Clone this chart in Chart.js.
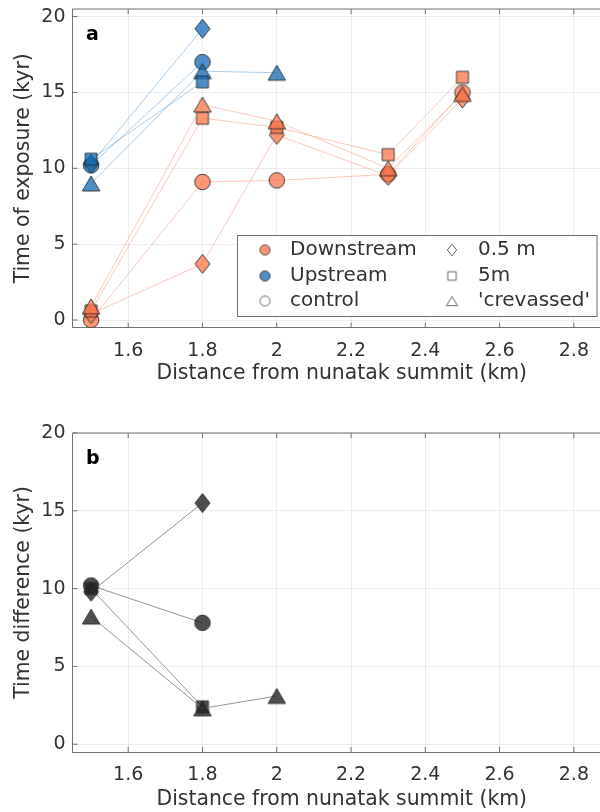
<!DOCTYPE html>
<html><head><meta charset="utf-8">
<script src="https://cdn.jsdelivr.net/npm/chart.js@4"></script>
<style>
html,body{margin:0;padding:0;background:#fff;overflow:hidden;width:600px;height:812px}
#wrap{position:relative;width:600px;height:812px;overflow:hidden}
canvas{position:absolute;left:0}
#ca{top:0}
#cb{top:400px}
</style></head><body>
<div id="wrap"><canvas id="ca" width="620" height="400"></canvas><canvas id="cb" width="620" height="412"></canvas></div>
<script>
// ---- data ----
const xTicks=[1.6,1.8,2.0,2.2,2.4,2.6,2.8];
const xTickLabels=['1.6','1.8','2','2.2','2.4','2.6','2.8'];
const yTicks=[0,5,10,15,20];
const yTickLabels=['0','5','10','15','20'];

const distDown=[1.5,1.8,2.0,2.3,2.5];
const downControl=[0.0,9.1,9.2,9.6,15.0];
const downDiamond=[0.4,3.7,12.2,9.5,14.6];
const down5m=[0.6,13.3,12.7,10.9,16.0];
const downCrev=[0.9,14.2,13.1,10.0,14.9];

const distUp=[1.5,1.8];
const distUpCrev=[1.5,1.8,2.0];
const upControl=[10.2,17.0];
const upDiamond=[10.3,19.2];
const up5m=[10.6,15.7];
const upCrev=[9.0,16.4,16.3];

const distDiff=[1.5,1.8];
const distDiffCrev=[1.5,1.8,2.0];
const diffControl=[10.2,7.8];
const diffDiamond=[9.8,15.5];
const diff5m=[10.0,2.4];
const diffCrev=[8.2,2.3,3.1];

const legendCol1=['Downstream','Upstream','control'];
const legendCol2=['0.5 m','5m',"'crevassed'"];
const titleA={x:'Distance from nunatak summit (km)',y:'Time of exposure (kyr)',letter:'a'};
const titleB={x:'Distance from nunatak summit (km)',y:'Time difference (kyr)',letter:'b'};

// ---- styles ----
const FONT='"DejaVu Sans", sans-serif';
const TXT='#333333';
const AX='#707070';
const orangeFill='rgba(248,118,75,0.75)';
const blueFill='rgba(20,105,178,0.75)';
const greyFill='rgba(35,35,35,0.8)';
const edge='rgba(40,40,40,0.85)';
const orangeLine='rgba(250,150,120,0.5)';
const blueLine='rgba(100,165,220,0.55)';
const greyLine='rgba(130,130,130,0.85)';

function marker(shape,fill,stroke,scale){
  scale=scale||1;
  const dims={circle:[15.5,15.5],diamond:[15,19],square:[12,12],triangle:[17.5,15]}[shape];
  const w=dims[0]*scale,h=dims[1]*scale;
  const c=document.createElement('canvas');
  const W=Math.ceil(w)+4,H=Math.ceil(h)+4;
  c.width=W;c.height=H;
  const g=c.getContext('2d');
  const cx=W/2,cy=H/2;
  g.beginPath();
  if(shape==='circle')g.arc(cx,cy,w/2,0,Math.PI*2);
  else if(shape==='diamond'){g.moveTo(cx,cy-h/2);g.lineTo(cx+w/2,cy);g.lineTo(cx,cy+h/2);g.lineTo(cx-w/2,cy);g.closePath();}
  else if(shape==='square'){g.rect(cx-w/2,cy-h/2,w,h);}
  else {g.moveTo(cx,cy-h/2);g.lineTo(cx+w/2,cy+h/2);g.lineTo(cx-w/2,cy+h/2);g.closePath();}
  g.fillStyle=fill;g.fill();
  g.lineWidth=1;g.strokeStyle=stroke;g.stroke();
  return c;
}

function ds(xs,ys,shape,fill,line){
  return {data:xs.map((x,i)=>({x:x,y:ys[i]})),pointStyle:marker(shape,fill,edge),
    pointRadius:8,pointHoverRadius:8,borderColor:line,borderWidth:1,showLine:true,fill:false,tension:0};
}

function decor(t,legend,xTitleOff){
  return {id:'decor',afterDraw(chart){
    const ctx=chart.ctx,a=chart.chartArea,x=chart.scales.x,y=chart.scales.y;
    ctx.save();
    ctx.strokeStyle=AX;ctx.lineWidth=1;
    ctx.beginPath();ctx.moveTo(a.left,a.top);ctx.lineTo(a.right,a.top);ctx.stroke();
    ctx.beginPath();
    xTicks.forEach(v=>{const p=x.getPixelForValue(v);ctx.moveTo(p,a.bottom);ctx.lineTo(p,a.bottom-5);ctx.moveTo(p,a.top);ctx.lineTo(p,a.top+5);});
    yTicks.forEach(v=>{const p=y.getPixelForValue(v);ctx.moveTo(a.left,p);ctx.lineTo(a.left+5,p);});
    ctx.stroke();
    ctx.fillStyle=TXT;
    ctx.font='20.4px '+FONT;ctx.textAlign='center';ctx.textBaseline='middle';
    ctx.fillText(t.x,(a.left+a.right)/2,a.bottom+xTitleOff);
    ctx.save();ctx.translate(24,(a.top+a.bottom)/2);ctx.rotate(-Math.PI/2);ctx.fillText(t.y,0,0);ctx.restore();
    ctx.font='bold 19px '+FONT;ctx.textAlign='left';ctx.textBaseline='alphabetic';ctx.fillStyle='#000';
    ctx.fillText(t.letter,86,a.top+31);
    if(legend){
      const L=237.5,T=235.5,R=597,B=316.5;
      ctx.fillStyle='#fff';ctx.fillRect(L,T,R-L,B-T);
      ctx.strokeStyle='#6e6e6e';ctx.strokeRect(L,T,R-L,B-T);
      const rows=[250,276,301];
      const m1=[marker('circle',orangeFill,edge,0.65),marker('circle',blueFill,edge,0.65),marker('circle','#fff','#666',0.65)];
      const m2=[marker('diamond','#fff','#666',0.62),marker('square','#fff','#666',0.7),marker('triangle','#fff','#666',0.62)];
      ctx.font='20px '+FONT;ctx.textBaseline='middle';ctx.textAlign='left';ctx.fillStyle=TXT;
      rows.forEach((ry,i)=>{
        ctx.drawImage(m1[i],265-m1[i].width/2,ry-m1[i].height/2);
        ctx.drawImage(m2[i],452-m2[i].width/2,ry-m2[i].height/2);
        ctx.fillText(legendCol1[i],290,ry);
        ctx.fillText(legendCol2[i],478,ry);
      });
    }
    ctx.restore();
  }};
}

function opts(ymin,ymax,padTop,xHeight){
  return {
    responsive:false,animation:false,devicePixelRatio:1,
    layout:{padding:{top:padTop,right:9,left:0,bottom:0}},
    plugins:{legend:{display:false},tooltip:{enabled:false}},
    scales:{
      x:{type:'linear',min:1.45,max:2.9,
        afterBuildTicks:s=>{s.ticks=xTicks.map(v=>({value:v}));},
        afterFit:s=>{s.height=xHeight;s.paddingLeft=0;s.paddingRight=0;},
        ticks:{font:{family:'DejaVu Sans',size:19},color:TXT,padding:12,maxRotation:0,autoSkip:false,
          callback:(v,i)=>xTickLabels[xTicks.findIndex(t=>Math.abs(t-v)<1e-6)]},
        grid:{color:'rgba(0,0,0,0.07)',drawTicks:false},
        border:{display:true,color:AX,width:1}},
      y:{type:'linear',min:ymin,max:ymax,
        afterBuildTicks:s=>{s.ticks=yTicks.map(v=>({value:v}));},
        afterFit:s=>{s.width=72.5;s.paddingTop=0;s.paddingBottom=0;},
        ticks:{font:{family:'DejaVu Sans',size:19},color:TXT,padding:7,autoSkip:false,
          callback:(v)=>yTickLabels[yTicks.indexOf(v)]},
        grid:{color:'rgba(0,0,0,0.07)',drawTicks:false},
        border:{display:true,color:AX,width:1}}
    }
  };
}

new Chart(document.getElementById('ca'),{
  type:'scatter',
  data:{datasets:[
    ds(distUp,up5m,'square',blueFill,blueLine),
    ds(distUpCrev,upCrev,'triangle',blueFill,blueLine),
    ds(distUp,upDiamond,'diamond',blueFill,blueLine),
    ds(distUp,upControl,'circle',blueFill,blueLine),
    ds(distDown,downCrev,'triangle',orangeFill,orangeLine),
    ds(distDown,down5m,'square',orangeFill,orangeLine),
    ds(distDown,downDiamond,'diamond',orangeFill,orangeLine),
    ds(distDown,downControl,'circle',orangeFill,orangeLine)
  ]},
  options:opts(-0.5,20.5,8.4,72.4),
  plugins:[decor(titleA,true,46)]
});

new Chart(document.getElementById('cb'),{
  type:'scatter',
  data:{datasets:[
    ds(distDiffCrev,diffCrev,'triangle',greyFill,greyLine),
    ds(distDiff,diff5m,'square',greyFill,greyLine),
    ds(distDiff,diffDiamond,'diamond',greyFill,greyLine),
    ds(distDiff,diffControl,'circle',greyFill,greyLine)
  ]},
  options:opts(-0.5,20,33,60),
  plugins:[decor(titleB,false,48)]
});
</script>
</body></html>
